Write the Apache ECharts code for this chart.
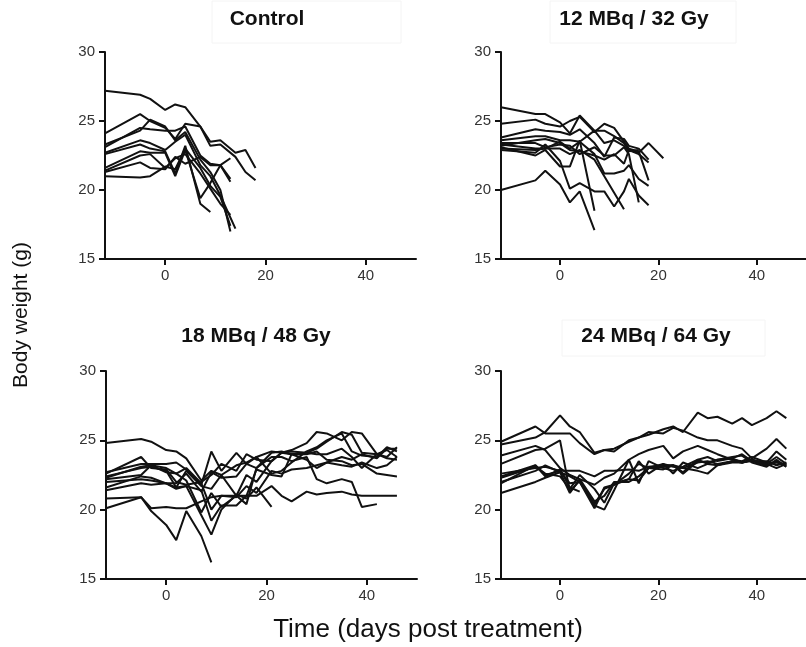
<!DOCTYPE html>
<html><head><meta charset="utf-8">
<script src="https://cdn.jsdelivr.net/npm/echarts@6/dist/echarts.min.js"></script>
<style>html,body{margin:0;padding:0;background:#fff}#c{width:806px;height:647px}</style>
</head><body><div id="c"></div>
<script>
const panelTitles = ['Control', '12 MBq / 32 Gy', '18 MBq / 48 Gy', '24 MBq / 64 Gy'];
const xTicks = [0, 20, 40];
const yTicks = [15, 20, 25, 30];
const xTitle = 'Time (days post treatment)';
const yTitle = 'Body weight (g)';

const daysControl = [-12, -5, -3, 0, 2, 4, 7, 9, 11, 13, 14, 16, 18];
const weightsControl = [
  [27.2, 26.9, 26.6, 25.8, 26.2, 26.0, 24.6, 23.5, 23.6, null, 22.7, 22.9, 21.6],
  [24.1, 25.5, 25.0, 24.5, 23.7, 24.8, 24.6, 23.2, 23.3, null, 22.4, 21.3, 20.7],
  [23.3, 24.3, 25.1, 24.6, 23.6, 24.2, 22.2, 21.3, 20.0, 17.0],
  [23.1, 24.5, 24.4, 24.3, 24.3, 24.6, 22.5, 21.9, 21.8, 20.8],
  [22.7, 23.6, 23.4, 22.9, 23.5, 24.0, 21.8, 21.0, 19.6, null, 17.2],
  [22.6, 23.3, 23.0, 22.8, 21.2, 23.2, 19.0, 18.4],
  [21.6, 22.8, 22.7, 22.7, 21.0, 22.9, 19.4, 20.5, 21.8, 22.3],
  [21.4, 22.5, 22.6, 21.6, 22.3, 22.6, 21.2, 20.1, 19.0, 18.2],
  [21.3, 22.0, 21.6, 21.5, 22.4, 21.9, 22.4, 21.8, 21.8, 20.6],
  [21.0, 20.9, 21.0, 21.7, 21.5, 23.0, 21.6, 20.3, 19.5, 17.4]
];

const days12MBq = [-12, -5, -3, 0, 2, 4, 7, 9, 11, 13, 14, 16, 18, 21];
const weights12MBq = [
  [26.0, 25.5, 25.5, 24.9, 24.1, 25.4, 24.3, 24.3, 23.9, 23.4, 22.9, 22.7, 23.4, 22.3],
  [24.8, 25.1, 24.8, 24.6, 25.0, 25.3, 24.2, 24.8, 24.5, 23.5, 23.0, 22.8, 20.7],
  [23.8, 24.4, 24.3, 24.2, 24.0, 24.4, 23.4, 22.4, 23.8, 23.7, 23.2, 23.0, 22.2],
  [23.6, 23.9, 23.9, 23.6, 23.6, 23.5, 24.3, 23.4, 23.6, 23.2, 22.8, 22.9],
  [23.4, 23.4, 23.1, 23.3, 23.2, 22.6, 23.1, 22.5, 22.5, 23.1, 22.6, 19.1],
  [23.3, 23.0, 23.0, 23.5, 23.0, 23.5, 22.6, 21.2, 21.2, 21.4, 21.8, 20.8, 20.3],
  [23.1, 22.5, 22.9, 21.7, 21.7, 23.6, 18.5],
  [23.0, 22.9, 23.0, 23.0, 22.6, 22.9, 22.2, 21.0, 19.8, 18.6],
  [22.9, 22.7, 23.3, 22.1, 20.1, 20.5, 19.9, 19.9, 18.8, 19.9, 20.8, 19.6, 18.9],
  [20.0, 20.7, 21.4, 20.4, 19.1, 19.9, 17.1],
  [23.2, 23.6, 23.7, 23.4, 22.9, 22.8, 22.5, 22.2, 22.6, 21.9, 22.9, 22.6, 22.0]
];

const days18MBq = [-12, -5, -3, 0, 2, 4, 7, 9, 11, 14, 16, 18, 21, 23, 25, 28, 30, 32, 35, 37, 39, 42, 44, 46];
const weights18MBq = [
  [24.8, 25.1, 24.9, 24.3, 24.2, 23.7, 22.1, 22.8, 22.5, 23.2, 23.4, 23.8, 24.2, 24.1, 24.3, 24.8, 25.6, 25.5, 25.0, 25.6, 25.5, 24.0, 24.3, 23.8],
  [22.7, 23.3, 23.3, 23.3, 23.4, 22.9, 21.8, 24.2, 22.8, 24.1, 23.3, 23.8, 22.6, 22.8, 23.4, 24.2, 24.5, 25.0, 25.5, 24.2, 23.9, 23.8, 24.5, 24.2],
  [22.6, 23.8, 23.0, 22.9, 22.0, 21.8, 22.0, 22.5, 23.3, 22.8, 24.0, 23.6, 23.5, 24.1, 24.2, 24.1, 24.0, 24.0, 24.4, 23.8, 23.0, 24.0, 23.7, 23.6],
  [22.4, 23.0, 23.1, 22.8, 21.6, 22.8, 21.7, 21.5, 22.5, 21.0, 22.5, 22.0, 23.5, 24.1, 24.0, 24.0, 24.2, 23.6, 23.5, 23.2, 23.3, 22.6, 22.5, 22.4],
  [22.2, 22.5, 23.2, 23.0, 22.6, 23.0, 21.9, 20.0, 21.0, 20.9, 21.7, 21.2, 22.8, 22.6, 22.9, 23.0, 23.2, 23.4, 23.2, 23.1, 23.4, 23.0, 23.2, 23.8],
  [20.8, 20.9, 20.1, 20.2, 20.1, 20.1, 20.6, 20.9, 21.0, 21.0, 21.0, 21.0, 21.7, 21.0, 20.6, 21.3, 21.1, 21.2, 21.3, 21.1, 21.0, 21.0, 21.0, 21.0],
  [20.1, 20.9, 19.9, 18.9, 17.8, 19.9, 18.1, 16.2],
  [21.4, 21.9, 21.8, 21.9, 21.6, 21.7, 19.6, 18.2, 20.0, 21.1, 20.8, 21.6, 20.2],
  [22.0, 22.2, 22.1, 21.9, 21.9, 22.6, 21.3, 22.7, 22.3, 22.4, 23.3, 23.0, 23.8, 23.8, 23.5, 23.8, 22.2, 21.9, 22.2, 22.0, 20.2, 20.4],
  [21.6, 22.4, 22.3, 21.9, 21.5, 21.7, 21.4, 19.2, 20.3, 20.3, 21.0, 22.9, 22.5, 22.4, 24.0, 24.1, 24.4, 24.9, 25.6, 25.4, 24.1, 24.0, 23.8, 24.5],
  [22.3, 23.1, 23.2, 22.7, 22.6, 22.1, 19.8, 21.2, 20.2, 21.0, 20.4, 23.0, 24.1, 24.2, 24.0, 23.6, 23.0, 23.4, 23.8, 23.6, 24.0, 23.7, 24.4, 24.4]
];

const days24MBq = [-12, -5, -3, 0, 2, 4, 7, 9, 11, 14, 16, 18, 21, 23, 25, 28, 30, 32, 35, 37, 39, 42, 44, 46];
const weights24MBq = [
  [24.7, 25.2, 25.6, 26.8, 26.0, 25.6, 24.1, 24.3, 24.4, 24.9, 25.2, 25.4, 25.8, 26.0, 25.6, 27.0, 26.6, 26.7, 26.2, 26.6, 26.1, 26.6, 27.1, 26.6],
  [24.9, 26.0, 25.5, 25.5, 25.5, 24.8, 24.0, 24.3, 24.2, 25.0, 25.2, 25.6, 25.5, 25.9, 25.7, 25.2, 25.0, 25.0, 24.6, 24.4, 23.7, 24.4, 25.1, 24.4],
  [23.9, 24.6, 24.3, 23.0, 22.5, 22.2, 21.8, 22.3, 22.6, 23.6, 24.0, 24.3, 24.6, 23.7, 24.2, 24.6, 24.3, 24.0, 23.6, 23.5, 23.8, 23.4, 24.2, 23.6],
  [23.3, 24.3, 24.4, 25.0, 21.3, 22.1, 20.3, 20.0, 21.4, 23.6, 21.9, 23.5, 23.0, 22.8, 23.1, 23.6, 23.8, 23.5, 23.7, 24.0, 23.5, 23.2, 23.5, 23.1],
  [22.6, 23.0, 23.1, 22.8, 22.8, 22.8, 22.4, 22.8, 22.8, 22.9, 22.8, 23.1, 23.2, 23.2, 23.0, 22.8, 22.6, 23.2, 23.5, 23.4, 23.5, 23.5, 23.2, 23.4],
  [22.4, 23.2, 22.5, 22.8, 21.9, 22.0, 20.4, 21.5, 21.8, 22.2, 22.1, 23.0, 23.3, 22.6, 23.4, 23.0, 23.3, 23.2, 23.4, 23.4, 23.6, 23.3, 23.0, 23.3],
  [22.0, 22.8, 23.2, 22.7, 21.2, 22.2, 20.6, 21.0, 22.0, 22.0, 22.4, 23.0, 23.1, 23.2, 22.7, 23.6, 23.3, 23.6, 23.7, 23.4, 23.6, 23.3, 23.8, 23.3],
  [21.9, 23.2, 22.4, 22.9, 21.6, 21.3],
  [21.2, 22.0, 22.3, 22.7, 22.4, 22.0, 20.1, 21.6, 21.8, 22.6, 23.3, 23.0, 22.9, 23.2, 22.6, 23.5, 23.4, 23.6, 23.8, 23.9, 23.4, 23.1, 23.6, 23.1],
  [22.3, 23.1, 22.6, 22.4, 21.5, 22.5, 21.5, 20.5, 21.9, 22.2, 23.5, 22.6, 23.3, 23.1, 23.0, 23.4, 23.5, 23.3, 23.5, 23.4, 23.6, 23.2, 23.4, 23.2]
];

const panelDays = [daysControl, days12MBq, days18MBq, days24MBq];
const panelWeights = [weightsControl, weights12MBq, weights18MBq, weights24MBq];

const FONT = '"Liberation Sans", Arial, Helvetica, sans-serif';
const AXIS_COLOR = '#111';
const gridBoxes = [
  {left: 105, top: 52, width: 311, height: 207},
  {left: 501, top: 52, width: 311, height: 207},
  {left: 106, top: 371, width: 311, height: 208},
  {left: 501, top: 371, width: 311, height: 208}
];
const titlePos = [
  {x: 267, y: 9}, {x: 634, y: 9}, {x: 256, y: 326}, {x: 656, y: 326}
];

const grid = [], xAxis = [], yAxis = [], series = [], title = [];
gridBoxes.forEach((g, i) => {
  grid.push(Object.assign({containLabel: false}, g));
  xAxis.push({
    type: 'value', gridIndex: i, min: -12, max: 50,
    axisLine: {show: true, onZero: false, lineStyle: {color: AXIS_COLOR, width: 2}},
    axisTick: {show: true, customValues: xTicks, length: 6, lineStyle: {color: AXIS_COLOR, width: 2}},
    axisLabel: {customValues: xTicks, fontSize: 15, color: '#333', fontFamily: FONT, margin: 9},
    splitLine: {show: false}
  });
  yAxis.push({
    type: 'value', gridIndex: i, min: 15, max: 30, interval: 5,
    axisLine: {show: true, onZero: false, lineStyle: {color: AXIS_COLOR, width: 2}},
    axisTick: {show: true, length: 6, lineStyle: {color: AXIS_COLOR, width: 2}},
    axisLabel: {fontSize: 15, color: '#333', fontFamily: FONT, margin: 10},
    splitLine: {show: false}
  });
  title.push({
    text: panelTitles[i], left: titlePos[i].x, top: titlePos[i].y, textAlign: 'center', padding: 0,
    textStyle: {fontSize: 21, fontWeight: 'bold', color: '#111', fontFamily: FONT}
  });
  const days = panelDays[i];
  panelWeights[i].forEach((w, k) => {
    const data = [];
    w.forEach((v, j) => { if (v !== null && v !== undefined) data.push([days[j], v]); });
    series.push({
      type: 'line', xAxisIndex: i, yAxisIndex: i, data: data,
      showSymbol: false, symbol: 'none', silent: true,
      lineStyle: {color: '#111', width: 2}, z: 2
    });
  });
});

title.push({
  text: xTitle, left: 428, top: 617, textAlign: 'center', padding: 0,
  textStyle: {fontSize: 26, fontWeight: 'normal', color: '#111', fontFamily: FONT}
});

const chart = echarts.init(document.getElementById('c'), null, {renderer: 'canvas'});
chart.setOption({
  animation: false,
  backgroundColor: '#fff',
  title: title,
  grid: grid, xAxis: xAxis, yAxis: yAxis, series: series,
  graphic: [
    {type: 'rect', shape: {x: 212, y: 1, width: 189, height: 42}, style: {fill: 'none', stroke: '#f4f4f4', lineWidth: 1}, silent: true, z: -1},
    {type: 'rect', shape: {x: 550, y: 1, width: 186, height: 42}, style: {fill: 'none', stroke: '#f4f4f4', lineWidth: 1}, silent: true, z: -1},
    {type: 'rect', shape: {x: 562, y: 320, width: 203, height: 36}, style: {fill: 'none', stroke: '#f4f4f4', lineWidth: 1}, silent: true, z: -1},
    {type: 'text', x: 21, y: 315, rotation: Math.PI / 2,
     style: {text: yTitle, fontSize: 21, fontFamily: FONT, fill: '#111', textAlign: 'center', textVerticalAlign: 'middle'}}
  ]
});
</script></body></html>
